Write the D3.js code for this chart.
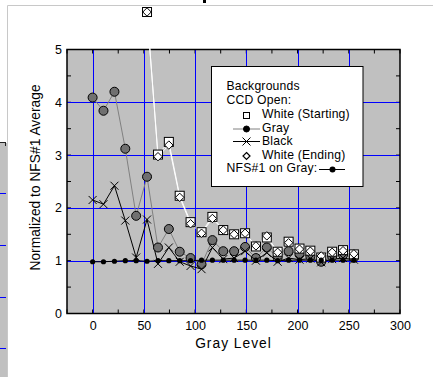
<!DOCTYPE html>
<html><head><meta charset="utf-8">
<script src="https://cdn.jsdelivr.net/npm/d3@7"></script>
<style>body{margin:0;background:#fff}svg{display:block}text{font-family:"Liberation Sans",Arial,sans-serif}</style>
</head><body><svg id="c" width="433" height="377"></svg>
<script>
const grayLevels = [0, 10.6, 21.3, 31.9, 42.5, 53.1, 63.8, 74.4, 85, 95.6, 106.3, 116.9, 127.5, 138.1, 148.8, 159.4, 170, 180.6, 191.3, 201.9, 212.5, 223.1, 233.8, 244.4, 255];
const whiteStart = [null, null, null, null, null, 5.71, 3.01, 3.25, 2.23, 1.73, 1.54, 1.83, 1.58, 1.50, 1.52, 1.27, 1.44, 1.17, 1.36, 1.23, 1.19, 1.06, 1.17, 1.20, 1.12];
const grayBg = [4.09, 3.84, 4.20, 3.12, 1.85, 2.59, 1.25, 1.60, 1.17, 1.05, 0.93, 1.39, 1.18, 1.18, 1.26, 1.05, 1.25, 1.06, 1.18, 1.12, 1.08, 0.98, 1.08, 1.11, 1.06];
const blackBg = [2.15, 2.07, 2.42, 1.76, 1.06, 1.78, 0.94, 1.25, 0.98, 0.90, 0.84, 1.25, 1.03, 1.05, 1.18, 1.00, 1.15, 0.98, 1.05, 1.02, 1.04, 0.97, 1.03, 1.05, 1.02];
const whiteEnd = [null, null, null, null, null, 5.71, 2.97, 3.19, 2.20, 1.70, 1.52, 1.80, 1.58, 1.50, 1.52, 1.28, 1.47, 1.16, 1.34, 1.22, 1.18, 1.09, 1.16, 1.19, 1.13];
const nfsGray = [0.98, 0.98, 0.99, 1.00, 1.00, 0.99, 1.00, 1.00, 1.00, 1.00, 1.01, 1.01, 1.01, 1.01, 1.01, 1.01, 1.01, 1.00, 1.01, 1.01, 1.01, 1.01, 1.01, 1.01, 1.01];
const xTicks = [0, 50, 100, 150, 200, 250, 300];
const yTicks = [0, 1, 2, 3, 4, 5];
const legendLines = ["Backgrounds", "CCD Open:", "White (Starting)", "Gray", "Black", "White (Ending)", "NFS#1 on Gray:"];

const svg = d3.select("#c");
const L = 67, R = 400, T = 49.5, B = 313.5;
const x = d3.scaleLinear().domain([-25, 300]).range([L, R]);
const y = d3.scaleLinear().domain([0, 5]).range([B, T]);

// background window artifacts
svg.append("rect").attr("x", 0).attr("y", 143).attr("width", 7).attr("height", 234).attr("fill", "#c0c0c0");
[193, 245, 297, 348].forEach(v => svg.append("line").attr("x1", 0).attr("x2", 6).attr("y1", v + .5).attr("y2", v + .5).attr("stroke", "#0000ff"));
svg.append("line").attr("x1", 0).attr("x2", 6).attr("y1", 142.5).attr("y2", 142.5).attr("stroke", "#222");
svg.append("line").attr("x1", 5.5).attr("x2", 5.5).attr("y1", 142).attr("y2", 146).attr("stroke", "#222");
svg.append("path").attr("d", "M7.5,377V5.5H433").attr("fill", "none").attr("stroke", "#c8c8c8");
svg.append("rect").attr("x", 203).attr("y", 0).attr("width", 3).attr("height", 3).attr("fill", "#000");

// plot area
svg.append("rect").attr("x", L).attr("y", T).attr("width", R - L).attr("height", B - T).attr("fill", "#c0c0c0");

// minor/major ticks (inward)
const xt = d3.range(-25, 301, 25), yt = d3.range(0, 5.01, 0.5);
const tk = svg.append("g").attr("stroke", "#000");
xt.forEach(v => {
  tk.append("line").attr("x1", x(v)).attr("x2", x(v)).attr("y1", B).attr("y2", B - 4);
  tk.append("line").attr("x1", x(v)).attr("x2", x(v)).attr("y1", T).attr("y2", T + 4);
});
yt.forEach(v => {
  tk.append("line").attr("x1", L).attr("x2", L + 4).attr("y1", y(v)).attr("y2", y(v));
  tk.append("line").attr("x1", R).attr("x2", R - 4).attr("y1", y(v)).attr("y2", y(v));
});

// grid
const g = svg.append("g").attr("stroke", "#0000ff").attr("stroke-width", 1);
xTicks.filter(v => v < 300).forEach(v => g.append("line").attr("x1", Math.round(x(v)) + .5).attr("x2", Math.round(x(v)) + .5).attr("y1", T).attr("y2", B));
yTicks.filter(v => v > 0 && v < 5).forEach(v => g.append("line").attr("x1", L).attr("x2", R).attr("y1", Math.round(y(v)) + .5).attr("y2", Math.round(y(v)) + .5));

svg.append("rect").attr("x", L).attr("y", T).attr("width", R - L).attr("height", B - T).attr("fill", "none").attr("stroke", "#000").attr("stroke-width", 1.5);

// axes labels via d3 axes
const xa = svg.append("g").attr("transform", `translate(0,${B})`)
  .call(d3.axisBottom(x).tickValues(xTicks).tickFormat(d3.format("d")).tickSize(0).tickPadding(8));
xa.select(".domain").remove();
xa.selectAll("text").attr("font-size", 12.5).attr("fill", "#000").attr("font-family", "Liberation Sans, Arial").attr("dy", "0.71em").attr("y", 8);
const ya = svg.append("g").attr("transform", `translate(${L},0)`)
  .call(d3.axisLeft(y).tickValues(yTicks).tickFormat(d3.format("d")).tickSize(0).tickPadding(5));
ya.select(".domain").remove();
ya.selectAll("text").attr("font-size", 12.5).attr("fill", "#000").attr("font-family", "Liberation Sans, Arial");

svg.append("text").attr("x", (L + R) / 2).attr("y", 348).attr("text-anchor", "middle")
  .attr("font-size", 13.8).attr("letter-spacing", 1).text("Gray Level");
svg.append("text").attr("transform", `translate(40,${(T + B) / 2 - 4}) rotate(-90)`).attr("text-anchor", "middle")
  .attr("font-size", 13.8).text("Normalized to NFS#1 Average");

// series
const pts = arr => arr.map((v, i) => [grayLevels[i], v]).filter(d => d[1] != null);
const line = d3.line().x(d => x(d[0])).y(d => y(d[1]));

svg.append("path").attr("d", line(pts(grayBg))).attr("fill", "none").attr("stroke", "#808080");
svg.append("path").attr("d", line(pts(blackBg))).attr("fill", "none").attr("stroke", "#000");
svg.append("path").attr("d", line(pts(whiteStart))).attr("fill", "none").attr("stroke", "#fff");
svg.append("path").attr("d", line(pts(whiteEnd))).attr("fill", "none").attr("stroke", "#fff");
svg.append("path").attr("d", line(pts(nfsGray))).attr("fill", "none").attr("stroke", "#000");

svg.append("g").selectAll("circle").data(pts(grayBg)).join("circle")
  .attr("cx", d => x(d[0])).attr("cy", d => y(d[1])).attr("r", 4.5)
  .attr("fill", "#707070").attr("stroke", "#000");
const xs = 4;
svg.append("g").selectAll("path").data(pts(blackBg)).join("path")
  .attr("d", d => `M${x(d[0]) - xs},${y(d[1]) - xs}L${x(d[0]) + xs},${y(d[1]) + xs}M${x(d[0]) - xs},${y(d[1]) + xs}L${x(d[0]) + xs},${y(d[1]) - xs}`)
  .attr("stroke", "#000").attr("fill", "none");
svg.append("g").selectAll("rect").data(pts(whiteStart)).join("rect")
  .attr("x", d => x(d[0]) - 4.5).attr("y", d => y(d[1]) - 4.5).attr("width", 9).attr("height", 9)
  .attr("fill", "#fff").attr("stroke", "#000");
const ds = 4.2;
svg.append("g").selectAll("path").data(pts(whiteEnd)).join("path")
  .attr("d", d => `M${x(d[0])},${y(d[1]) - ds}L${x(d[0]) + ds},${y(d[1])}L${x(d[0])},${y(d[1]) + ds}L${x(d[0]) - ds},${y(d[1])}Z`)
  .attr("fill", "#fff").attr("stroke", "#000");
svg.append("g").selectAll("circle").data(pts(nfsGray)).join("circle")
  .attr("cx", d => x(d[0])).attr("cy", d => y(d[1])).attr("r", 2.6).attr("fill", "#000");

// legend
const lg = svg.append("g");
lg.append("rect").attr("x", 211.5).attr("y", 66.5).attr("width", 151.5).attr("height", 120).attr("fill", "#fff").attr("stroke", "#000");
const lx = [226.5, 226.5, 262, 262, 262, 262, 226.5];
const ly = [90, 104, 117.5, 131.5, 145, 159, 172];
legendLines.forEach((t, i) => lg.append("text").attr("x", lx[i]).attr("y", ly[i]).attr("font-size", 12.2).attr("letter-spacing", 0.2).text(t));
lg.append("rect").attr("x", 243.5).attr("y", 112.5).attr("width", 6).attr("height", 6).attr("fill", "#fff").attr("stroke", "#000");
lg.append("line").attr("x1", 233).attr("x2", 260).attr("y1", 129).attr("y2", 129).attr("stroke", "#808080");
lg.append("circle").attr("cx", 246.5).attr("cy", 129).attr("r", 3).attr("fill", "#000").attr("stroke", "#000");
lg.append("line").attr("x1", 233).attr("x2", 260).attr("y1", 141.5).attr("y2", 141.5).attr("stroke", "#000");
lg.append("path").attr("d", "M242.5,137.5L250.5,145.5M242.5,145.5L250.5,137.5").attr("stroke", "#000");
lg.append("path").attr("d", "M246.5,152.5L250,156L246.5,159.5L243,156Z").attr("fill", "#fff").attr("stroke", "#000").attr("stroke-width", 1.2);
lg.append("line").attr("x1", 319).attr("x2", 345).attr("y1", 169.5).attr("y2", 169.5).attr("stroke", "#000");
lg.append("circle").attr("cx", 332.5).attr("cy", 169.5).attr("r", 3).attr("fill", "#000");
</script></body></html>
